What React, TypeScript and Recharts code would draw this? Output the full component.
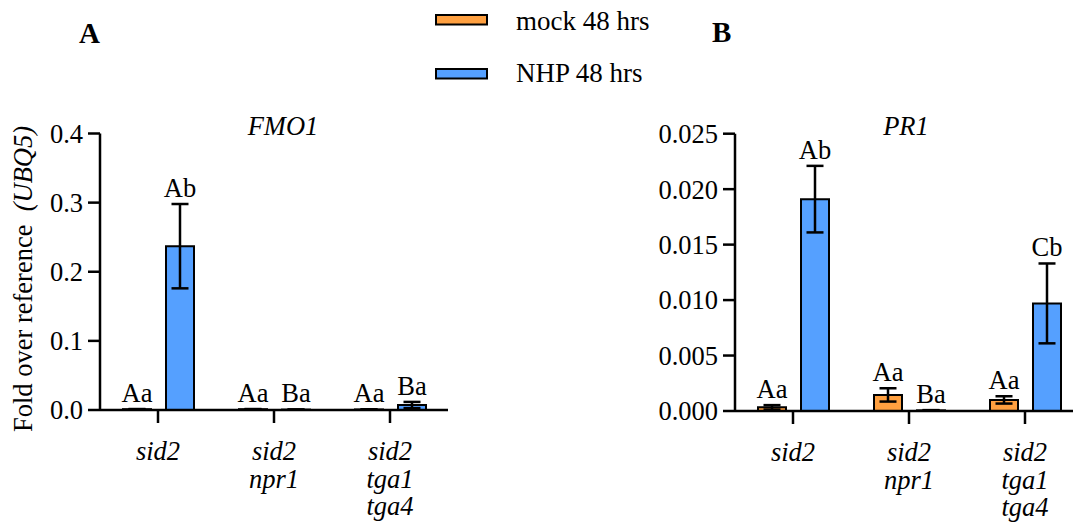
import React from 'react';
import { BarChart, Bar, XAxis, YAxis, ErrorBar, LabelList } from 'recharts';

const categories = ['sid2', 'sid2\nnpr1', 'sid2\ntga1\ntga4'];
const seriesNames = ['mock 48 hrs', 'NHP 48 hrs'];
const panelLetters = ['A', 'B'];
const panelTitles = ['FMO1', 'PR1'];
const yAxisTitle = 'Fold over reference';
const yAxisTitleGene = '(UBQ5)';

// Panel A – FMO1
const fmo1Mock = [0.0012, 0.0012, 0.0008];
const fmo1MockErr = [0.0002, 0.0002, 0.0002];
const fmo1Nhp = [0.237, 0.0006, 0.0072];
const fmo1NhpErr = [0.061, 0.0002, 0.0045];
const fmo1MockLetters = ['Aa', 'Aa', 'Aa'];
const fmo1NhpLetters = ['Ab', 'Ba', 'Ba'];
const fmo1Ticks = [0, 0.1, 0.2, 0.3, 0.4];

// Panel B – PR1
const pr1Mock = [0.00033, 0.00145, 0.001];
const pr1MockErr = [0.0002, 0.0006, 0.00033];
const pr1Nhp = [0.0191, 0.00006, 0.0097];
const pr1NhpErr = [0.003, 0.00002, 0.0036];
const pr1MockLetters = ['Aa', 'Aa', 'Aa'];
const pr1NhpLetters = ['Ab', 'Ba', 'Cb'];
const pr1Ticks = [0, 0.005, 0.01, 0.015, 0.02, 0.025];

const MOCK_COLOR = '#FFA040';
const NHP_COLOR = '#55A0FF';
const FONT = "'Liberation Serif', 'DejaVu Serif', serif";
const FS = 26.5;

type Row = {
  cat: string;
  mock: number;
  mockErr: number;
  nhp: number;
  nhpErr: number;
  mockLetter: string;
  nhpLetter: string;
};

const buildRows = (
  mock: number[],
  mockErr: number[],
  nhp: number[],
  nhpErr: number[],
  mockL: string[],
  nhpL: string[]
): Row[] =>
  categories.map((cat, i) => ({
    cat,
    mock: mock[i],
    mockErr: mockErr[i],
    nhp: nhp[i],
    nhpErr: nhpErr[i],
    mockLetter: mockL[i],
    nhpLetter: nhpL[i],
  }));

const fmo1Data = buildRows(fmo1Mock, fmo1MockErr, fmo1Nhp, fmo1NhpErr, fmo1MockLetters, fmo1NhpLetters);
const pr1Data = buildRows(pr1Mock, pr1MockErr, pr1Nhp, pr1NhpErr, pr1MockLetters, pr1NhpLetters);

const makeLetterLabel = (values: number[], errs: number[]) => (props: any) => {
  const x = Number(props.x);
  const y = Number(props.y);
  const w = Number(props.width);
  const h = Number(props.height);
  const idx = props.index;
  const v = values[idx];
  const e = errs[idx];
  const ppu = v > 0 ? h / v : 0;
  const top = y - e * ppu;
  return (
    <text x={x + w / 2} y={top - 7} textAnchor="middle" fontFamily={FONT} fontSize={FS} fill="#000">
      {props.value}
    </text>
  );
};

const CategoryTick = (props: any) => {
  const { x, y, payload } = props;
  const lines = String(payload.value).split('\n');
  return (
    <text x={x} y={y} textAnchor="middle" fontFamily={FONT} fontSize={FS} fontStyle="italic" fill="#000">
      {lines.map((l, i) => (
        <tspan key={i} x={x} dy={i === 0 ? 37 : 27.5}>
          {l}
        </tspan>
      ))}
    </text>
  );
};

type PanelProps = {
  data: Row[];
  ticks: number[];
  decimals: number;
  width: number;
  left: number;
  margin: { top: number; right: number; bottom: number; left: number };
  mockVals: number[];
  mockErrs: number[];
  nhpVals: number[];
  nhpErrs: number[];
  children?: React.ReactNode;
};

const Panel = (p: PanelProps) => (
  <div style={{ position: 'absolute', left: p.left, top: 0 }}>
    <BarChart width={p.width} height={522} data={p.data} margin={p.margin} barSize={28} barGap={15}>
      <XAxis
        dataKey="cat"
        height={30}
        interval={0}
        tickSize={13}
        tickMargin={0}
        axisLine={{ stroke: '#000', strokeWidth: 2.5 }}
        tickLine={{ stroke: '#000', strokeWidth: 2.5 }}
        tick={<CategoryTick />}
      />
      <YAxis
        width={100}
        domain={[0, p.ticks[p.ticks.length - 1]]}
        ticks={p.ticks}
        interval={0}
        tickSize={12}
        tickMargin={5}
        tickFormatter={(v: number) => v.toFixed(p.decimals)}
        axisLine={{ stroke: '#000', strokeWidth: 2.5 }}
        tickLine={{ stroke: '#000', strokeWidth: 2.5 }}
        tick={{ fill: '#000', fontSize: FS, fontFamily: FONT }}
      />
      <Bar dataKey="mock" name={seriesNames[0]} fill={MOCK_COLOR} stroke="#000" strokeWidth={2} isAnimationActive={false}>
        <ErrorBar dataKey="mockErr" width={8.5} stroke="#000" strokeWidth={2.5} />
        <LabelList dataKey="mockLetter" content={makeLetterLabel(p.mockVals, p.mockErrs)} />
      </Bar>
      <Bar dataKey="nhp" name={seriesNames[1]} fill={NHP_COLOR} stroke="#000" strokeWidth={2} isAnimationActive={false}>
        <ErrorBar dataKey="nhpErr" width={8.5} stroke="#000" strokeWidth={2.5} />
        <LabelList dataKey="nhpLetter" content={makeLetterLabel(p.nhpVals, p.nhpErrs)} />
      </Bar>
      {p.children}
    </BarChart>
  </div>
);

export default function App() {
  return (
    <div
      style={{
        position: 'absolute',
        left: 0,
        top: 0,
        width: 1073,
        height: 522,
        overflow: 'hidden',
        background: '#fff',
      }}
    >
      <Panel
        data={fmo1Data}
        ticks={fmo1Ticks}
        decimals={1}
        width={560}
        left={0}
        margin={{ top: 133.5, right: 112, bottom: 82, left: 0 }}
        mockVals={fmo1Mock}
        mockErrs={fmo1MockErr}
        nhpVals={fmo1Nhp}
        nhpErrs={fmo1NhpErr}
      >
        <text x={283} y={135} textAnchor="middle" fontFamily={FONT} fontSize={FS} fontStyle="italic" fill="#000">
          {panelTitles[0]}
        </text>
        <text
          x={32}
          y={279}
          textAnchor="middle"
          transform="rotate(-90, 32, 279)"
          fontFamily={FONT}
          fontSize={FS}
          fill="#000"
        >
          {yAxisTitle + '\u00a0\u00a0'}
          <tspan fontStyle="italic">{yAxisTitleGene}</tspan>
        </text>
      </Panel>
      <Panel
        data={pr1Data}
        ticks={pr1Ticks}
        decimals={3}
        width={540}
        left={560}
        margin={{ top: 133.7, right: 17, bottom: 81, left: 75 }}
        mockVals={pr1Mock}
        mockErrs={pr1MockErr}
        nhpVals={pr1Nhp}
        nhpErrs={pr1NhpErr}
      >
        <text x={346} y={135} textAnchor="middle" fontFamily={FONT} fontSize={FS} fontStyle="italic" fill="#000">
          {panelTitles[1]}
        </text>
      </Panel>
      <svg
        width={1073}
        height={522}
        style={{ position: 'absolute', left: 0, top: 0, pointerEvents: 'none' }}
      >
        <text x={79} y={43} fontFamily={FONT} fontSize={29} fontWeight="bold" fill="#000">
          {panelLetters[0]}
        </text>
        <text x={712} y={42} fontFamily={FONT} fontSize={29} fontWeight="bold" fill="#000">
          {panelLetters[1]}
        </text>
        <rect x={436} y={15} width={51} height={9.5} fill={MOCK_COLOR} stroke="#000" strokeWidth={2} />
        <text x={516} y={30} fontFamily={FONT} fontSize={27} fill="#000">
          {seriesNames[0]}
        </text>
        <rect x={436} y={69} width={51} height={9.5} fill={NHP_COLOR} stroke="#000" strokeWidth={2} />
        <text x={516} y={82} fontFamily={FONT} fontSize={27} fill="#000">
          {seriesNames[1]}
        </text>
      </svg>
    </div>
  );
}
